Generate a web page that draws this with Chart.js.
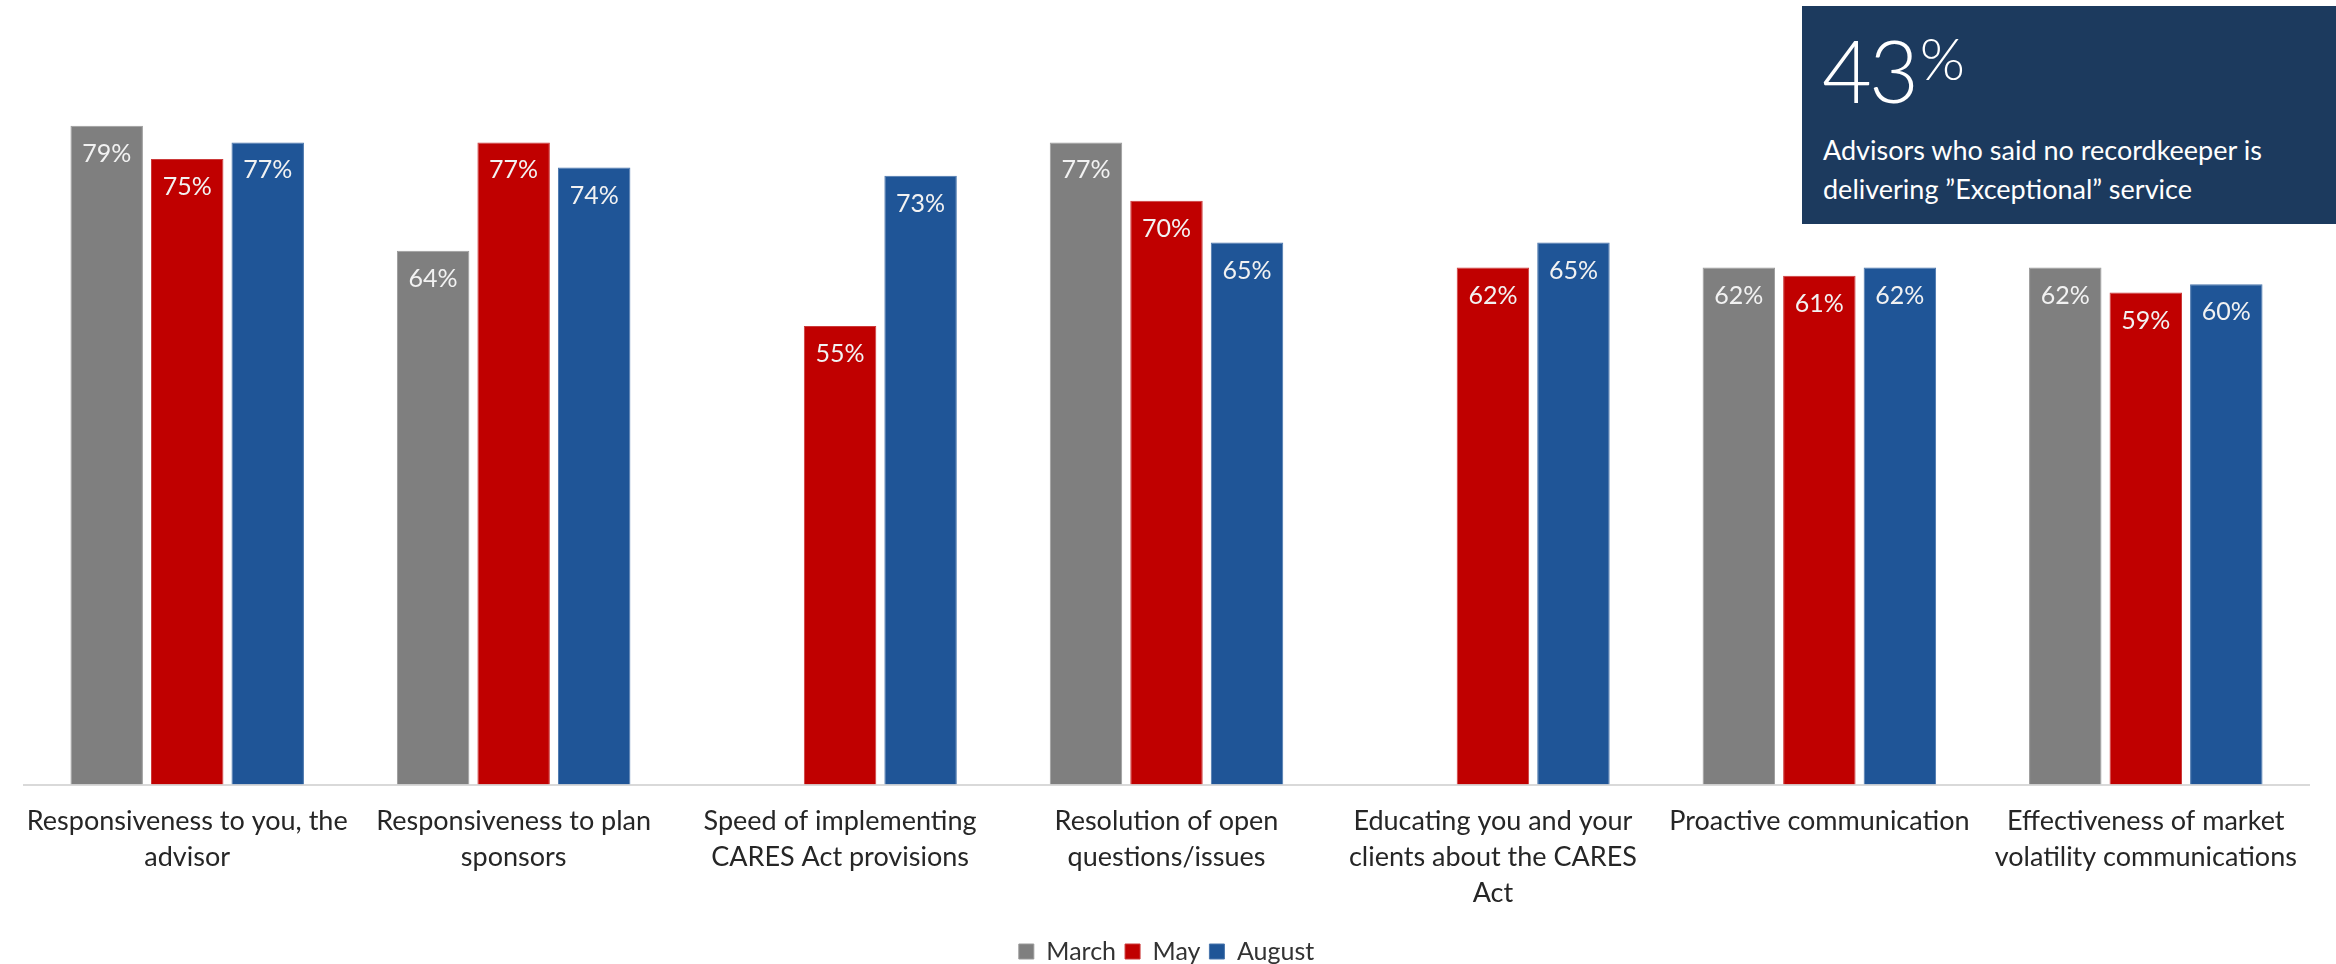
<!DOCTYPE html>
<html>
<head>
<meta charset="utf-8">
<script src="https://cdn.jsdelivr.net/npm/chart.js@4.4.1/dist/chart.umd.min.js"></script>
<style>
html,body{margin:0;padding:0;background:#fff;overflow:hidden;}
#wrap{position:relative;width:2336px;height:964px;}
#chart{position:absolute;left:0;top:0;}
#callout{position:absolute;left:1802px;top:6px;width:534px;height:218px;background:#1C3A5E;color:#fff;font-family:Lato,"Open Sans",sans-serif;}
#big{position:absolute;left:20px;top:14px;font-size:86px;line-height:100px;font-weight:300;white-space:nowrap;letter-spacing:-3px;}
#big sup{font-size:58px;vertical-align:top;position:relative;top:-12px;margin-left:4px;letter-spacing:0;}
#sub{position:absolute;left:21px;top:124px;font-size:27px;line-height:39px;white-space:nowrap;}
</style>
</head>
<body>
<div id="wrap">
<canvas id="chart" width="2336" height="964"></canvas>
<div id="callout"><div id="big">43<sup>%</sup></div><div id="sub">Advisors who said no recordkeeper is<br>delivering ”Exceptional” service</div></div>
</div>
<script>
const categories = [
  ["Responsiveness to you, the", "advisor"],
  ["Responsiveness to plan", "sponsors"],
  ["Speed of implementing", "CARES Act provisions"],
  ["Resolution of open", "questions/issues"],
  ["Educating you and your", "clients about the CARES", "Act"],
  ["Proactive communication"],
  ["Effectiveness of market", "volatility communications"]
];
const seriesNames = ["March", "May", "August"];
const marchValues = [79, 64, null, 77, null, 62, 62];
const mayValues = [75, 77, 55, 70, 62, 61, 59];
const augustValues = [77, 74, 73, 65, 65, 62, 60];

const FONT = 'Lato, "Open Sans", sans-serif';

const valueLabels = {
  id: 'valueLabels',
  afterDatasetsDraw(chart) {
    const ctx = chart.ctx;
    ctx.save();
    ctx.font = '25px ' + FONT;
    ctx.fillStyle = '#F2F2F2';
    ctx.textAlign = 'center';
    ctx.textBaseline = 'middle';
    chart.data.datasets.forEach((ds, i) => {
      const meta = chart.getDatasetMeta(i);
      meta.data.forEach((bar, j) => {
        const v = ds.data[j];
        if (v === null || v === undefined) return;
        ctx.fillText(v + '%', bar.x, bar.y + 28);
      });
    });
    ctx.restore();
  }
};

new Chart(document.getElementById('chart'), {
  type: 'bar',
  data: {
    labels: categories,
    datasets: [
      { label: seriesNames[0], data: marchValues, backgroundColor: '#7F7F7F', borderColor: '#9A9A9A', borderWidth: 1 },
      { label: seriesNames[1], data: mayValues, backgroundColor: '#C00000', borderColor: '#CC3A3A', borderWidth: 1 },
      { label: seriesNames[2], data: augustValues, backgroundColor: '#1F5597', borderColor: '#4A76AD', borderWidth: 1 }
    ]
  },
  options: {
    responsive: false,
    animation: false,
    datasets: { bar: { categoryPercentage: 0.74, barPercentage: 0.9 } },
    layout: { padding: { left: 24, right: 27, top: 34, bottom: -10 } },
    scales: {
      x: {
        grid: { display: false, drawTicks: false, tickLength: 0 },
        border: { display: true, color: '#D9D9D9', width: 2 },
        ticks: {
          color: '#262626',
          font: { family: FONT, size: 27, lineHeight: '35.8px' },
          padding: 19, maxRotation: 0, minRotation: 0, autoSkip: false
        }
      },
      y: { display: false, min: 0, max: 90 }
    },
    plugins: {
      legend: {
        position: 'bottom',
        labels: {
          boxWidth: 15, boxHeight: 15, padding: 9, color: '#333333',
          font: { family: FONT, size: 25, lineHeight: '26px' }
        }
      },
      tooltip: { enabled: false }
    }
  },
  plugins: [valueLabels]
});
</script>
</body>
</html>
